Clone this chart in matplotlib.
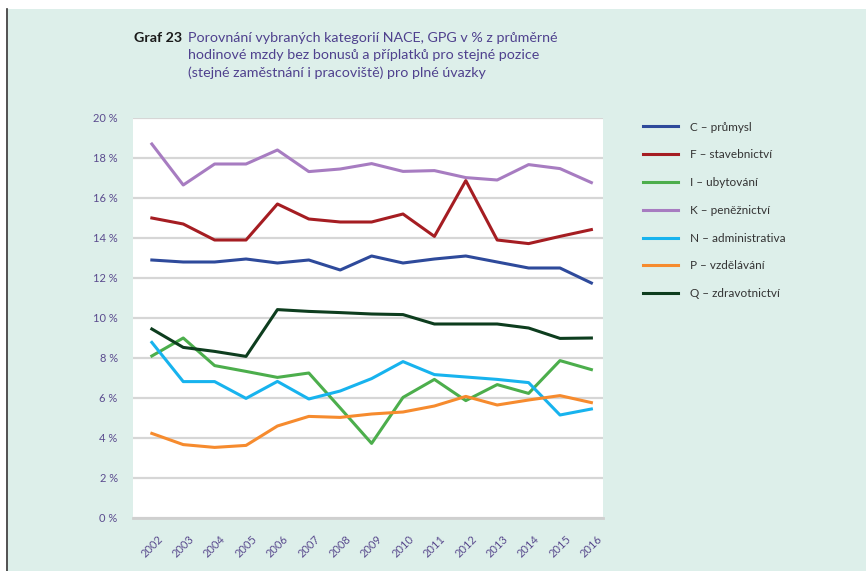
import matplotlib
matplotlib.use("Agg")
import matplotlib.pyplot as plt
from matplotlib.patches import Rectangle
from matplotlib.lines import Line2D

plt.rcParams['font.family'] = ['Lato', 'DejaVu Sans']

years = list(range(2002, 2017))
c_prumysl = [12.9, 12.8, 12.8, 12.95, 12.75, 12.9, 12.4, 13.1, 12.75, 12.95, 13.1, 12.8, 12.5, 12.5, 11.75]
f_staveb = [15.0, 14.7, 13.9, 13.9, 15.7, 14.95, 14.8, 14.8, 15.2, 14.08, 16.87, 13.9, 13.72, 14.08, 14.42]
i_ubyt = [8.1, 9.0, 7.62, 7.33, 7.03, 7.25, 5.5, 3.73, 6.03, 6.93, 5.87, 6.67, 6.23, 7.87, 7.42]
k_penez = [18.7, 16.65, 17.7, 17.7, 18.4, 17.32, 17.45, 17.72, 17.33, 17.37, 17.02, 16.9, 17.67, 17.47, 16.77]
n_admin = [8.78, 6.82, 6.82, 5.98, 6.83, 5.95, 6.35, 6.97, 7.82, 7.17, 7.05, 6.93, 6.77, 5.15, 5.45]
p_vzdel = [4.23, 3.67, 3.53, 3.63, 4.6, 5.08, 5.03, 5.2, 5.3, 5.6, 6.08, 5.65, 5.9, 6.12, 5.77]
q_zdrav = [9.45, 8.53, 8.33, 8.08, 10.42, 10.33, 10.27, 10.2, 10.17, 9.7, 9.7, 9.7, 9.5, 8.98, 9.0]

labels = ['C – průmysl', 'F – stavebnictví', 'I – ubytování', 'K – peněžnictví',
          'N – administrativa', 'P – vzdělávání', 'Q – zdravotnictví']
series = [c_prumysl, f_staveb, i_ubyt, k_penez, n_admin, p_vzdel, q_zdrav]
colors = ['#2e4a9b', '#a51d22', '#4cae4c', '#a77cc1', '#17b3ee', '#f68b2e', '#0d3d1e']

mint = '#ddefea'
tick_col = '#5a4b8e'

fig = plt.figure(figsize=(8.66, 5.71), dpi=100)
fig.patch.set_facecolor('white')
fig.add_artist(Rectangle((8 / 866, 0), 1, 1 - 9 / 571, transform=fig.transFigure,
                         facecolor=mint, edgecolor='none', zorder=0))
fig.add_artist(Line2D([7.5 / 866, 7.5 / 866], [0, 1 - 9 / 571], transform=fig.transFigure,
                      color='#333333', lw=1.2, zorder=1))

ax = fig.add_axes([133 / 866, 1 - 518 / 571, 470 / 866, 400 / 571])
ax.set_facecolor('white')

for vals, lab, col in zip(series, labels, colors):
    ax.plot(years, vals, color=col, lw=2.2, label=lab, solid_joinstyle='round', zorder=3)

ax.set_xlim(2002 - 0.6, 2016 + 0.37)
ax.set_ylim(0, 20)
ax.set_yticks(range(0, 21, 2))
ax.set_yticklabels([f'{v} %' for v in range(0, 21, 2)])
ax.set_xticks(years)
ax.set_xticklabels([str(y) for y in years], rotation=45, ha='center')
ax.tick_params(axis='both', length=0, colors=tick_col, labelsize=8)
ax.tick_params(axis='y', pad=11)
ax.tick_params(axis='x', pad=11)
ax.grid(axis='y', color='#d6d6d6', lw=1.6, zorder=1)
for s in ['top', 'right', 'left']:
    ax.spines[s].set_visible(False)
ax.spines['bottom'].set_color('#cfcfcf')
ax.spines['bottom'].set_linewidth(2)

fig.text(134 / 866, 1 - 32 / 571, 'Graf 23', fontsize=10.3, fontweight='bold',
         color='#1a1a1a', va='top', ha='left')
fig.text(188 / 866, 1 - 32 / 571,
         'Porovnání vybraných kategorií NACE, GPG v % z průměrné\n'
         'hodinové mzdy bez bonusů a příplatků pro stejné pozice\n'
         '(stejné zaměstnání i pracoviště) pro plné úvazky',
         fontsize=10.3, color='#4f418e', va='top', ha='left', linespacing=1.5)

handles, labs = ax.get_legend_handles_labels()
fig.legend(handles, labs, loc='upper left', bbox_to_anchor=(632 / 866, 1 - 111 / 571),
           frameon=False, fontsize=8.5, handlelength=3.0, handletextpad=1.0,
           labelspacing=1.42, labelcolor='#333333')

fig.savefig('out.png', dpi=100, facecolor=fig.get_facecolor())
